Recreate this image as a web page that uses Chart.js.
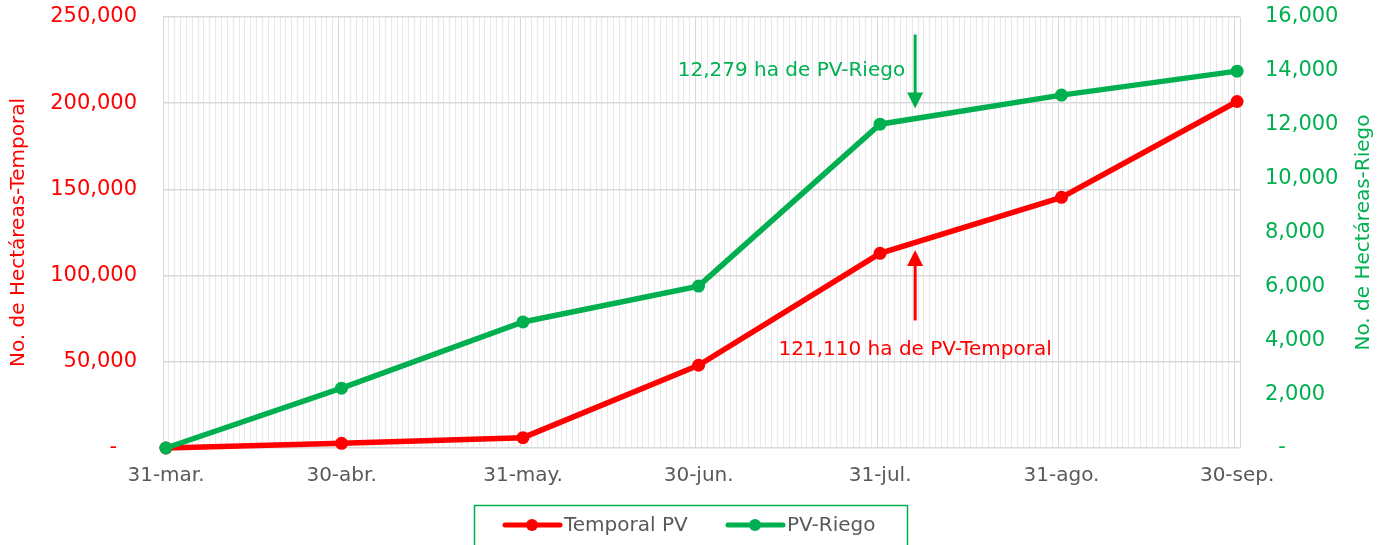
<!DOCTYPE html>
<html>
<head>
<meta charset="utf-8">
<script src="https://cdn.jsdelivr.net/npm/chart.js@4.4.0/dist/chart.umd.min.js"></script>
<style>
  html, body { margin: 0; padding: 0; background: #fff; }
  #chart { display: block; }
</style>
</head>
<body>
<canvas id="chart" width="1383" height="545"></canvas>
<script>
// Chart data
const dateLabels = ["31-mar.", "30-abr.", "31-may.", "30-jun.", "31-jul.", "31-ago.", "30-sep."];
const dayIndex = [0, 30, 61, 91, 122, 153, 183]; // days since 31-mar
const temporalPV = [0, 2700, 6000, 48000, 112900, 145400, 201000];
const riegoPV = [0, 2220, 4680, 6010, 12020, 13100, 13990];
const seriesNames = ["Temporal PV", "PV-Riego"];

// Annotations
const riegoNote = "12,279 ha de PV-Riego";
const temporalNote = "121,110 ha de PV-Temporal";
const noteDay = 128;

const RED = "#ff0000";
const GREEN = "#00b050";
const GREY = "#595959";
const FONT = "'DejaVu Sans', sans-serif";

const toPoints = (values) => values.map((v, i) => ({ x: dayIndex[i], y: v }));

const formatNumber = (v) =>
  v === 0 ? "-" : new Intl.NumberFormat("en-US").format(v);

// no extra padding from the scales, the layout padding handles it
const noScalePadding = (scale) => {
  scale.paddingTop = 0;
  scale.paddingBottom = 0;
  scale.paddingLeft = 0;
  scale.paddingRight = 0;
};

// Draw a vertical arrow from y1 to y2 (head at y2)
const drawArrow = (ctx, x, y1, y2, color) => {
  const dir = y2 > y1 ? 1 : -1;
  ctx.save();
  ctx.strokeStyle = color;
  ctx.fillStyle = color;
  ctx.lineWidth = 3;
  ctx.beginPath();
  ctx.moveTo(x, y1);
  ctx.lineTo(x, y2 - dir * 12);
  ctx.stroke();
  ctx.beginPath();
  ctx.moveTo(x - 8, y2 - dir * 16);
  ctx.lineTo(x + 8, y2 - dir * 16);
  ctx.lineTo(x, y2);
  ctx.closePath();
  ctx.fill();
  ctx.restore();
};

const extrasPlugin = {
  id: "extras",
  afterDraw(chart) {
    const ctx = chart.ctx;
    const area = chart.chartArea;
    const xs = chart.scales.x;
    const yl = chart.scales.y;
    const yr = chart.scales.y2;
    ctx.save();
    ctx.font = "20px " + FONT;
    ctx.textAlign = "center";
    ctx.textBaseline = "middle";

    // axis titles
    const midY = (area.top + area.bottom) / 2;
    ctx.fillStyle = RED;
    ctx.save();
    ctx.translate(19, midY);
    ctx.rotate(-Math.PI / 2);
    ctx.fillText("No. de Hectáreas-Temporal", 0, 0);
    ctx.restore();
    ctx.fillStyle = GREEN;
    ctx.save();
    ctx.translate(1364, midY);
    ctx.rotate(-Math.PI / 2);
    ctx.fillText("No. de Hectáreas-Riego", 0, 0);
    ctx.restore();

    // annotations
    const ax = xs.getPixelForValue(noteDay);
    drawArrow(ctx, ax, yr.getPixelForValue(15350), yr.getPixelForValue(12600), GREEN);
    drawArrow(ctx, ax, yl.getPixelForValue(74000), yl.getPixelForValue(114800), RED);
    ctx.fillStyle = GREEN;
    ctx.textAlign = "right";
    ctx.fillText(riegoNote, ax - 10, yr.getPixelForValue(14000));
    ctx.fillStyle = RED;
    ctx.textAlign = "center";
    ctx.fillText(temporalNote, ax, yl.getPixelForValue(56800));

    // legend box
    ctx.strokeStyle = GREEN;
    ctx.lineWidth = 1.5;
    ctx.strokeRect(474.5, 505.5, 433, 60);
    const items = [
      { x: 505, color: RED, label: seriesNames[0] },
      { x: 728, color: GREEN, label: seriesNames[1] },
    ];
    ctx.textAlign = "left";
    items.forEach((item) => {
      ctx.strokeStyle = item.color;
      ctx.fillStyle = item.color;
      ctx.lineWidth = 5;
      ctx.lineCap = "round";
      ctx.beginPath();
      ctx.moveTo(item.x, 525);
      ctx.lineTo(item.x + 55, 525);
      ctx.stroke();
      ctx.beginPath();
      ctx.arc(item.x + 27, 525, 6, 0, Math.PI * 2);
      ctx.fill();
      ctx.fillStyle = GREY;
      ctx.fillText(item.label, item.x + 59, 526);
    });
    ctx.restore();
  },
};

const majorDays = dayIndex.map((d) => d - 0.5);

const ctx = document.getElementById("chart").getContext("2d");
new Chart(ctx, {
  type: "line",
  data: {
    datasets: [
      {
        label: seriesNames[0],
        data: toPoints(temporalPV),
        yAxisID: "y",
        borderColor: RED,
        backgroundColor: RED,
        borderWidth: 5.5,
        pointRadius: 6.5,
        pointBackgroundColor: RED,
        pointBorderWidth: 0,
        tension: 0,
        clip: false,
        order: 2,
      },
      {
        label: seriesNames[1],
        data: toPoints(riegoPV),
        yAxisID: "y2",
        borderColor: GREEN,
        backgroundColor: GREEN,
        borderWidth: 5.5,
        pointRadius: 6.5,
        pointBackgroundColor: GREEN,
        pointBorderWidth: 0,
        tension: 0,
        clip: false,
        order: 1,
      },
    ],
  },
  options: {
    responsive: false,
    animation: false,
    devicePixelRatio: 1,
    layout: { padding: { top: 17, left: 0, right: 0, bottom: 0 } },
    plugins: {
      legend: { display: false },
      tooltip: { enabled: false },
    },
    scales: {
      x: {
        type: "linear",
        min: -0.5,
        max: 183.5,
        afterBuildTicks(scale) {
          const ticks = [];
          for (let i = 0; i <= 184; i++) ticks.push({ value: -0.5 + i });
          scale.ticks = ticks;
        },
        afterFit(scale) {
          scale.height = 97;
          noScalePadding(scale);
        },
        border: { display: false },
        grid: {
          drawTicks: false,
          lineWidth: 1,
          color: (c) =>
            c.tick && (majorDays.includes(c.tick.value) || c.tick.value === 183.5)
              ? "#d9d9d9"
              : "#e8e8e8",
        },
        ticks: {
          autoSkip: false,
          maxRotation: 0,
          minRotation: 0,
          padding: 16,
          labelOffset: 3,
          color: GREY,
          font: { family: FONT, size: 20 },
          callback: (v) => {
            const i = majorDays.indexOf(v);
            return i >= 0 ? dateLabels[i] : "";
          },
        },
      },
      y: {
        position: "left",
        min: 0,
        max: 250000,
        afterFit(scale) {
          scale.width = 163;
          noScalePadding(scale);
        },
        border: { display: false },
        grid: { drawTicks: false, color: "#d9d9d9", lineWidth: 1.5 },
        ticks: {
          stepSize: 50000,
          padding: 26,
          color: RED,
          font: { family: FONT, size: 21 },
          callback: (v) => (v === 0 ? "-   " : formatNumber(v)),
        },
      },
      y2: {
        position: "right",
        min: 0,
        max: 16000,
        afterFit(scale) {
          scale.width = 143;
          noScalePadding(scale);
        },
        border: { display: false },
        grid: { display: false, drawTicks: false },
        ticks: {
          stepSize: 2000,
          padding: 25,
          color: GREEN,
          font: { family: FONT, size: 21 },
          callback: (v) => (v === 0 ? "  -" : formatNumber(v)),
        },
      },
    },
  },
  plugins: [extrasPlugin],
});
</script>
</body>
</html>
